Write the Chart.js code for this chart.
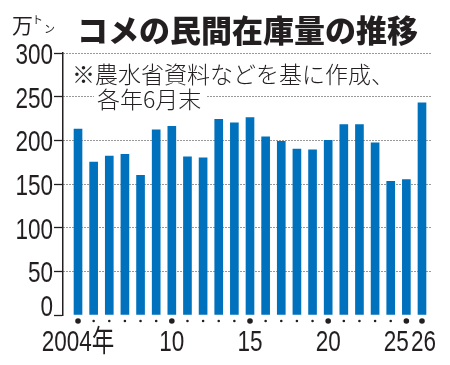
<!DOCTYPE html>
<html lang="ja">
<head>
    <meta charset="UTF-8">
    <title>コメの民間在庫量の推移</title>
    <script src="https://cdn.jsdelivr.net/npm/chart.js"></script>
    <style>
        body { margin: 0; background: #fff; }
        canvas { display: block; }
    </style>
</head>
<body>
    <canvas id="riceChart" width="450" height="365"></canvas>

    <script>
        // 各年6月末の民間在庫量（万トン）
        const years = [2004, 2005, 2006, 2007, 2008, 2009, 2010, 2011, 2012, 2013, 2014, 2015,
                       2016, 2017, 2018, 2019, 2020, 2021, 2022, 2023, 2024, 2025, 2026];
        const stocks = [213, 175, 182, 184, 160, 212, 216, 181, 180, 224, 220, 226,
                        204, 199, 190, 189, 200, 218, 218, 197, 153, 155, 243];
        const yTicks = [0, 50, 100, 150, 200, 250, 300];
        const labelYears = [2004, 2010, 2015, 2020, 2025, 2026];
        const labelTexts = ['2004年', '10', '15', '20', '25', '26'];

        const numFont = '"Liberation Sans", "Noto Sans CJK JP", sans-serif';
        const jpFont = '"Noto Sans CJK JP", sans-serif';
        const ink = '#231f20';
        const narrow = 0.75;  // 細めの数字：横方向に縮める

        function narrowText(ctx, text, px, py, align) {
            ctx.save();
            ctx.translate(px, py);
            ctx.scale(narrow, 1);
            ctx.textAlign = align;
            ctx.fillText(text, 0, 0);
            ctx.restore();
        }

        // 目盛りの数字、軸の下の点、年ラベル、見出し、注記
        const decorations = {
            id: 'decorations',
            afterDraw(chart) {
                const ctx = chart.ctx;
                const x = chart.scales.x;
                const y = chart.scales.y;
                ctx.save();
                ctx.fillStyle = ink;
                ctx.font = '30px ' + numFont;
                ctx.textBaseline = 'alphabetic';

                yTicks.forEach(v => {
                    const py = y.getPixelForValue(v);
                    // 0だけは軸の上にのせる
                    narrowText(ctx, String(v), 53, v === 0 ? py + 1 : py + 11, 'right');
                });

                years.forEach(yr => {
                    const big = labelYears.includes(yr);
                    ctx.beginPath();
                    ctx.arc(x.getPixelForValue(yr), 321, big ? 2.8 : 1.3, 0, Math.PI * 2);
                    ctx.fill();
                });

                labelYears.forEach((yr, i) => {
                    let px = x.getPixelForValue(yr);
                    if (yr === 2025) px -= 10;  // 26と重ならないよう左へ
                    if (yr === 2026) px += 1.5;
                    narrowText(ctx, labelTexts[i], px, 351, 'center');
                });

                ctx.textAlign = 'left';
                ctx.textBaseline = 'middle';
                ctx.font = '900 31px ' + jpFont;
                ctx.fillText('コメの民間在庫量の推移', 77, 30);

                ctx.font = '21px ' + jpFont;
                ctx.fillText('万', 12, 25);
                ctx.font = '11px ' + jpFont;
                ctx.fillText('ト', 32, 20);
                ctx.fillText('ン', 44, 29);

                ctx.fillStyle = '#fff';
                ctx.fillRect(94, 87, 113, 24);
                ctx.fillStyle = ink;
                ctx.font = '300 23px ' + jpFont;
                ctx.fillText('※農水省資料などを基に作成、', 72, 74);
                ctx.fillText('各年6月末', 97, 99);
                ctx.restore();
            }
        };

        const riceCtx = document.getElementById('riceChart').getContext('2d');
        const riceChart = new Chart(riceCtx, {
            type: 'bar',
            data: {
                datasets: [{
                    data: years.map((yr, i) => ({ x: yr, y: stocks[i] })),
                    backgroundColor: '#0071bc',
                    barThickness: 8
                }]
            },
            options: {
                responsive: false,
                animation: false,
                devicePixelRatio: 1,
                layout: { padding: { top: 53, right: 18, bottom: 50, left: 0 } },
                plugins: { legend: { display: false }, tooltip: { enabled: false } },
                scales: {
                    x: { type: 'linear', min: 2003.04, max: 2026.64, offset: false, display: false },
                    y: {
                        min: 0,
                        max: 300,
                        afterBuildTicks: s => { s.ticks = yTicks.map(v => ({ value: v })); },
                        afterFit: s => { s.width = 63; },
                        ticks: { display: false },
                        grid: {
                            color: c => c.tick && c.tick.value === 0 ? 'rgba(0,0,0,0)' : '#333',
                            lineWidth: 1,
                            tickLength: 9,
                            tickColor: ink,
                            tickWidth: 1.3
                        },
                        border: { display: true, color: ink, width: 1.5, dash: [1, 2] }
                    }
                }
            },
            plugins: [decorations]
        });
    </script>
</body>
</html>
